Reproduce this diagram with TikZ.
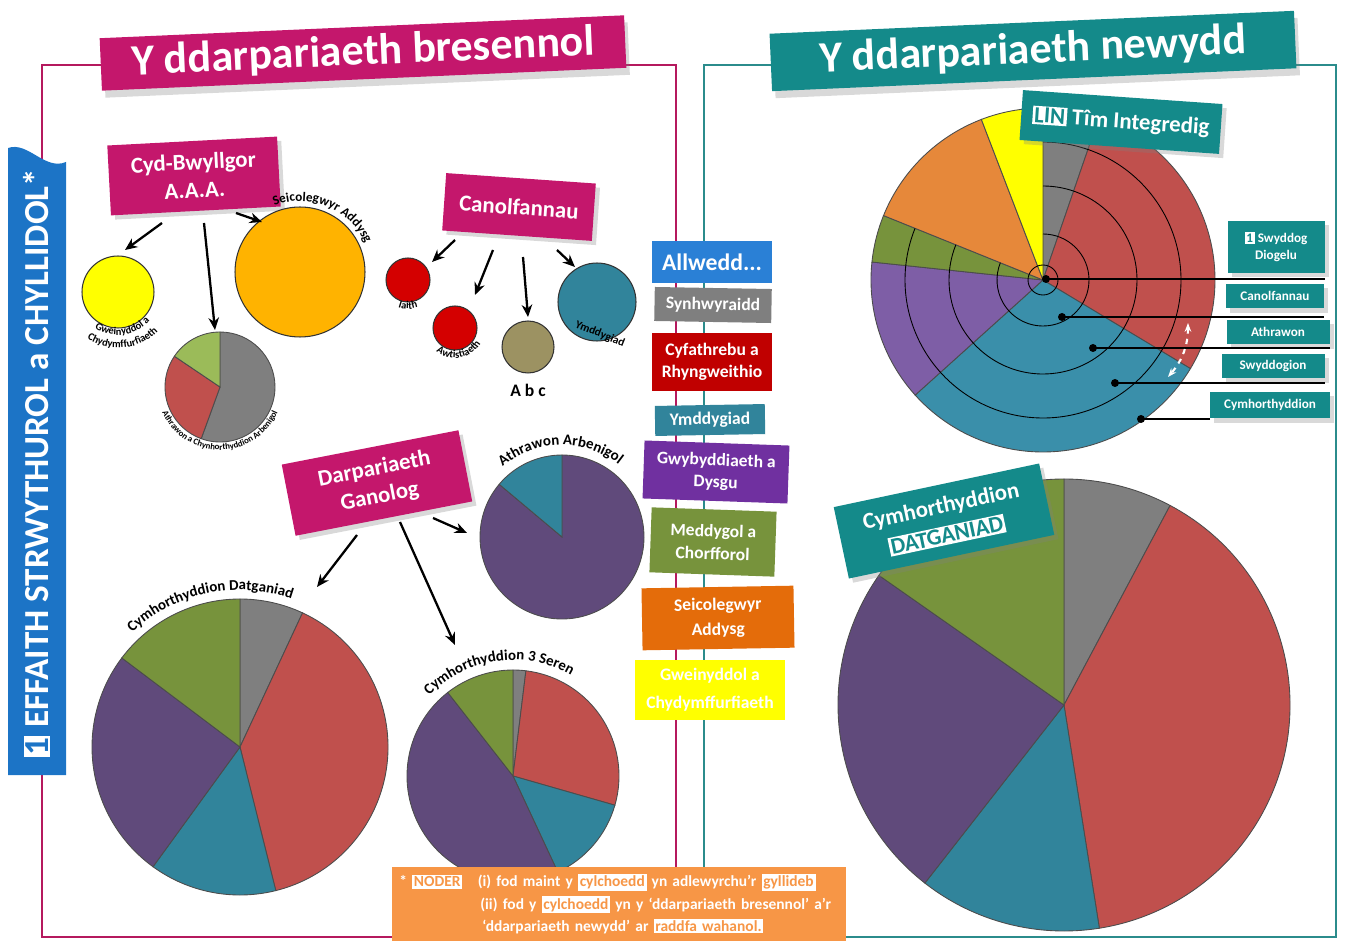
\documentclass[tikz,border=0pt]{standalone}
\usepackage{fontspec}
\setmainfont{Carlito}
\usetikzlibrary{positioning,calc,arrows.meta,shadows,decorations.text}

\definecolor{magbar}{HTML}{C4176C}
\definecolor{magline}{HTML}{B5195E}
\definecolor{tealbar}{HTML}{148A8A}
\definecolor{tealline}{HTML}{2B8C8C}
\definecolor{bluebar}{HTML}{1C74C6}
\definecolor{pgrey}{HTML}{7F7F7F}
\definecolor{pred}{HTML}{C0504D}
\definecolor{pteal}{HTML}{31849B}
\definecolor{ppurple}{HTML}{604A7B}
\definecolor{pgreen}{HTML}{77933C}
\definecolor{pgreenlt}{HTML}{9BBB59}
\definecolor{porange}{HTML}{E6883A}
\definecolor{pyellow}{HTML}{FFFF00}
\definecolor{pamber}{HTML}{FFB300}
\definecolor{pcrimson}{HTML}{D40000}
\definecolor{polive}{HTML}{9C9262}
\definecolor{timpurple}{HTML}{7E5EA6}
\definecolor{timteal}{HTML}{3A8FAA}
\definecolor{keyblue}{HTML}{2A80D6}
\definecolor{keyred}{HTML}{C00000}
\definecolor{keypurple}{HTML}{7030A0}
\definecolor{keyorange}{HTML}{E46C0A}
\definecolor{noteorange}{HTML}{F79646}

\newcommand{\hilite}[2]{{\setlength{\fboxsep}{1pt}\colorbox{white}{\textcolor{#1}{#2}}}}
\newcommand{\pieslice}[5]{%
  \filldraw[fill=#5, draw=black!70, line width=0.5pt] (#1) -- ++(#3:#2) arc[start angle=#3, end angle=#4, radius=#2] -- cycle;}

\tikzset{
  titlebar/.style={text=white, font=\fontsize{25}{28}\selectfont\bfseries, minimum width=10.5cm, minimum height=1.05cm,
    drop shadow={shadow xshift=2pt, shadow yshift=-4pt, opacity=.3}},
  magbox/.style={fill=magbar, text=white, font=\fontsize{13}{16}\selectfont\bfseries, align=center,
    drop shadow={opacity=.3}},
  keybox/.style={text=white, font=\fontsize{10}{12.5}\selectfont\bfseries, align=center, inner sep=2pt},
  tealtag/.style={fill=tealbar, text=white, font=\fontsize{7.5}{10}\selectfont\bfseries, align=center,
    drop shadow={opacity=.3}},
  blob/.style={circle, draw=black!80, line width=0.6pt, inner sep=0pt},
  arr/.style={-{Stealth[length=7pt,width=6pt]}, line width=1.3pt},
  leader/.style={line width=0.7pt},
  curvelbl/.style 2 args={decorate, decoration={text along path, text align=center,
    text={|\fontsize{#1}{#1}\selectfont\bfseries|#2}}},
}

\begin{document}
\begin{tikzpicture}[x=0.02cm, y=0.02cm]
\useasboundingbox (0,0) rectangle (1346,941);

% frames
\draw[magline, line width=1pt] (42,4) rectangle (676,876);
\draw[tealline, line width=1pt] (704,4) rectangle (1336,876);

% titles
\node[titlebar, fill=magbar, rotate=2.5] (tl) at (363,888) {Y ddarpariaeth bresennol};
\node[titlebar, fill=tealbar, rotate=2.5, minimum height=1.15cm] (tr) at (1033,890) {Y ddarpariaeth newydd};

% side banner
\fill[bluebar] (8,166) -- (8,793) .. controls (28,800) and (45,770) .. (66,779) -- (66,166) -- cycle;
\node[rotate=90, text=white, font=\fontsize{20}{22}\selectfont\bfseries] (fx) at (37,478)
  {\hilite{bluebar}{1} EFFAITH STRWYTHUROL a CHYLLIDOL*};

% current provision
\node[magbox, rotate=3, minimum width=3.4cm, minimum height=1.4cm] (cyd) at (194,765) {Cyd-Bwyllgor\\A.A.A.};
\node[magbox, rotate=-4, minimum width=3.0cm, minimum height=1.15cm] (can) at (519,734) {Canolfannau};
\node[magbox, rotate=11, minimum width=3.6cm, minimum height=1.45cm] (dar) at (377,458) {Darpariaeth\\Ganolog};

\node[blob, fill=pyellow, minimum size=1.44cm] (yel) at (118,649) {};
\node[blob, fill=pamber, minimum size=2.6cm] (ora) at (300,669) {};
\node[blob, fill=pcrimson, minimum size=0.88cm] (iai) at (408,661) {};
\node[blob, fill=pcrimson, minimum size=0.88cm] (awt) at (455,613) {};
\node[blob, fill=polive, minimum size=1.04cm] (abc) at (528,594) {};
\node[blob, fill=pteal, minimum size=1.56cm] (ymd) at (597,639) {};

\coordinate (athc) at (220,554);
\pieslice{athc}{55}{90}{-110}{pgrey}
\pieslice{athc}{55}{146}{250}{pred}
\pieslice{athc}{55}{90}{146}{pgreenlt}

\coordinate (arb) at (562,404);
\pieslice{arb}{82}{140}{450}{ppurple}
\pieslice{arb}{82}{90}{140}{pteal}

\coordinate (dat) at (240,194);
\pieslice{dat}{148}{90}{65}{pgrey}
\pieslice{dat}{148}{65}{-76}{pred}
\pieslice{dat}{148}{-76}{-126}{pteal}
\pieslice{dat}{148}{-126}{-217}{ppurple}
\pieslice{dat}{148}{143}{90}{pgreen}

\coordinate (ser) at (513,165);
\pieslice{ser}{106}{90}{83}{pgrey}
\pieslice{ser}{106}{83}{-16}{pred}
\pieslice{ser}{106}{-16}{-65}{pteal}
\pieslice{ser}{106}{-65}{-232}{ppurple}
\pieslice{ser}{106}{128}{90}{pgreen}

% arrows
\draw[arr] ($(cyd)+(-32,-47)$) -- ($(yel)+(7,42)$);
\draw[arr] ($(cyd)+(10,-47)$) -- ($(athc)+(-5,57)$);
\draw[arr] ($(cyd)+(42,-37)$) -- ($(ora)+(-38,50)$);
\draw[arr] ($(can)+(-64,-33)$) -- ($(iai)+(24,18)$);
\draw[arr] ($(can)+(-26,-43)$) -- ($(awt)+(20,33)$);
\draw[arr] ($(can)+(4,-50)$) -- ($(abc)+(0,30)$);
\draw[arr] ($(can)+(38,-43)$) -- ($(ymd)+(-22,35)$);
\draw[arr] ($(dar)+(-20,-52)$) -- ($(dat)+(77,160)$);
\draw[arr] ($(dar)+(23,-39)$) -- ($(ser)+(-58,131)$);
\draw[arr] ($(dar)+(56,-35)$) -- ($(arb)+(-95,4)$);

% labels round the circles
\path[curvelbl={7.5}{Seicolegwyr Addysg}] ($(ora)+(125:71)$) arc[start angle=125, end angle=10, radius=71];
\path[curvelbl={6}{Gweinyddol a}] ($(yel)+(235:43)$) arc[start angle=235, end angle=320, radius=43];
\path[curvelbl={6}{Chydymffurfiaeth}] ($(yel)+(226:56)$) arc[start angle=226, end angle=326, radius=56];
\path[curvelbl={5}{Athrawon a Chynhorthyddion Arbenigol}] ($(athc)+(188:63)$) arc[start angle=188, end angle=352, radius=63];
\path[curvelbl={6}{Iaith}] ($(iai)+(240:29)$) arc[start angle=240, end angle=300, radius=29];
\path[curvelbl={6}{Awtistiaeth}] ($(awt)+(212:30)$) arc[start angle=212, end angle=348, radius=30];
\node[font=\fontsize{10}{12}\selectfont\bfseries, below=0.08cm of abc] (abclbl) {A b c};
\node[rotate=-22, font=\fontsize{6.5}{8}\selectfont\bfseries] (ymdlbl) at (600,607) {Ymddygiad};
\path[curvelbl={8.5}{Athrawon Arbenigol}] ($(arb)+(140:92)$) arc[start angle=140, end angle=42, radius=92];
\path[curvelbl={8.5}{Cymhorthyddion Datganiad}] ($(dat)+(140:157)$) arc[start angle=140, end angle=64, radius=157];
\path[curvelbl={8.5}{Cymhorthyddion 3 Seren}] ($(ser)+(140:116)$) arc[start angle=140, end angle=56, radius=116];

% key
\node[keybox, fill=keyblue, minimum width=2.4cm, minimum height=0.84cm, font=\fontsize{13.5}{15}\selectfont\bfseries] (key) at (712,679) {Allwedd...};
\node[keybox, fill=pgrey, minimum width=2.34cm, minimum height=0.68cm, rotate=-1] (ksyn) at (713,636) {Synhwyraidd};
\node[keybox, fill=keyred, minimum width=2.4cm, minimum height=1.16cm] (kcyf) at (712,579) {Cyfathrebu a\\Rhyngweithio};
\node[keybox, fill=pteal, minimum width=2.2cm, minimum height=0.6cm, rotate=1] (kymd) at (710,521) {Ymddygiad};
\node[keybox, fill=keypurple, minimum width=2.9cm, minimum height=1.16cm, rotate=-2] (kgwy) at (716,469) {Gwybyddiaeth a\\Dysgu};
\node[keybox, fill=pgreen, minimum width=2.5cm, minimum height=1.3cm, rotate=-2, font=\fontsize{10}{13}\selectfont\bfseries] (kmed) at (713,399) {Meddygol a\\Chorfforol};
\node[keybox, fill=keyorange, minimum width=3.04cm, minimum height=1.24cm, rotate=1, font=\fontsize{10}{14}\selectfont\bfseries] (ksei) at (718,323) {Seicolegwyr\\Addysg};
\node[keybox, fill=pyellow, minimum width=3.0cm, minimum height=1.2cm, font=\fontsize{10}{16}\selectfont\bfseries] (kgwe) at (710,251) {Gweinyddol a\\Chydymffurfiaeth};

% new provision: integrated team
\coordinate (tim) at (1043,661);
\pieslice{tim}{172}{90}{71}{pgrey}
\pieslice{tim}{172}{71}{-31}{pred}
\pieslice{tim}{172}{-31}{-138}{timteal}
\pieslice{tim}{172}{-138}{-186}{timpurple}
\pieslice{tim}{172}{-186}{-202}{pgreen}
\pieslice{tim}{172}{-202}{-249}{porange}
\pieslice{tim}{172}{-249}{-270}{pyellow}
\foreach \r in {46,94,138}
  \draw[line width=0.5pt] ($(tim)+(90:\r)$) arc[start angle=90, end angle=-202, radius=\r];
\draw[line width=0.5pt] (tim) circle (15);

\node[tealtag, rotate=-4, minimum width=4cm, minimum height=1cm, font=\fontsize{13}{15}\selectfont\bfseries] (timlbl) at (1121,819) {\hilite{tealbar}{LIN} Tîm Integredig};
\node[tealtag, minimum width=1.94cm, minimum height=1.04cm] (swy) at (1276,694) {\hilite{tealbar}{1} Swyddog\\Diogelu};
\node[tealtag, minimum width=1.96cm, minimum height=0.5cm] (can2) at (1275,645) {Canolfannau};
\node[tealtag, minimum width=2.06cm, minimum height=0.5cm] (ath) at (1278,609) {Athrawon};
\node[tealtag, minimum width=2.06cm, minimum height=0.5cm] (swg) at (1273,575) {Swyddogion};
\node[tealtag, minimum width=2.4cm, minimum height=0.54cm] (cym) at (1270,536) {Cymhorthyddion};

\foreach \n/\x/\y in {d1/1046/662, d2/1062/624, d3/1093/593, d4/1115/558, d5/1141/522} {
  \coordinate (\n) at (\x,\y);
  \fill (\n) circle (4);
}
\draw[leader] (d1) -- (d1 -| swy.east);
\draw[leader] (d2) -- (d2 -| can2.east);
\draw[leader] (d3) -- (d3 -| ath.east);
\draw[leader] (d4) -- (d4 -| swg.east);
\draw[leader] (d5) -- (d5 -| cym.west);

\coordinate (sw1) at (1188,618);
\coordinate (sw2) at (1168,564);
\draw[white, dashed, line width=1.2pt, {Stealth[length=5pt]}-{Stealth[length=5pt]}] (sw1) to[bend left=20] (sw2);

% new provision: statemented assistants
\coordinate (big) at (1064,236);
\pieslice{big}{226}{90}{62}{pgrey}
\pieslice{big}{226}{62}{-81}{pred}
\pieslice{big}{226}{-81}{-128}{pteal}
\pieslice{big}{226}{-128}{-215}{ppurple}
\pieslice{big}{226}{145}{90}{pgreen}
\node[tealtag, rotate=12, minimum width=4.2cm, minimum height=1.46cm, font=\fontsize{13}{17}\selectfont\bfseries] (datlbl) at (944,420) {Cymhorthyddion\\\hilite{tealbar}{DATGANIAD}};

% note
\node[fill=noteorange, text=white, anchor=south west, minimum height=1.42cm, text width=8.8cm, inner sep=4pt,
  font=\fontsize{8.8}{12.6}\selectfont\bfseries, align=left] (note) at (392,0)
  {* \hilite{noteorange}{NODER}\quad (i) fod maint y \hilite{noteorange}{cylchoedd} yn adlewyrchu’r \hilite{noteorange}{gyllideb}\\
   \hspace*{1.62cm}(ii) fod y \hilite{noteorange}{cylchoedd} yn y ‘ddarpariaeth bresennol’ a’r\\
   \hspace*{1.66cm}‘ddarpariaeth newydd’ ar \hilite{noteorange}{raddfa wahanol.}};
\end{tikzpicture}
\end{document}
